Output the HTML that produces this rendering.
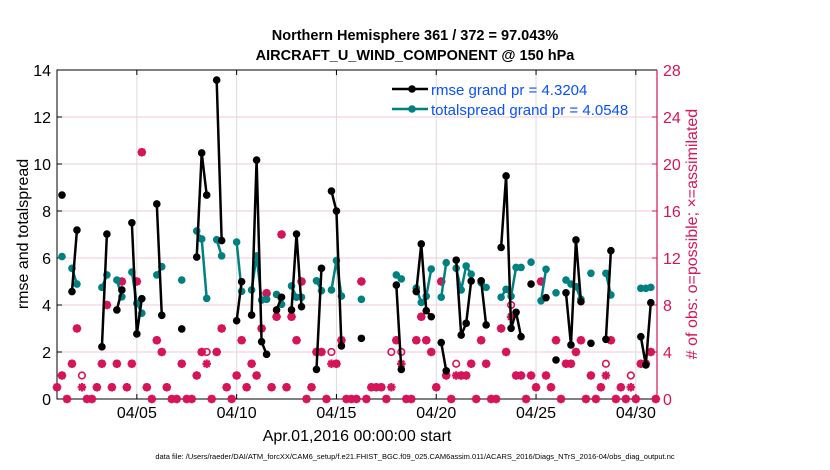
<!DOCTYPE html>
<html><head><meta charset="utf-8">
<style>
body{margin:0;background:#fff;}
svg{display:block;font-family:"Liberation Sans",sans-serif;}
</style></head>
<body>
<svg id="chart" width="830" height="470" viewBox="0 0 830 470">
<rect width="830" height="470" fill="#fff"/>
<text x="415" y="40" text-anchor="middle" font-size="14.5" font-weight="bold">Northern Hemisphere 361 / 372 = 97.043%</text>
<text x="415" y="60" text-anchor="middle" font-size="14.5" font-weight="bold">AIRCRAFT_U_WIND_COMPONENT @ 150 hPa</text>
<g id="grid"></g>
<g id="axes"></g>
<g id="marks"></g>
<text transform="translate(28,234) rotate(-90)" text-anchor="middle" font-size="16">rmse and totalspread</text>
<text transform="translate(697,234) rotate(-90)" text-anchor="middle" font-size="16" fill="#d6145a"># of obs: o=possible; ×=assimilated</text>
<text x="357" y="441" text-anchor="middle" font-size="16">Apr.01,2016 00:00:00 start</text>
<text x="415" y="459" text-anchor="middle" font-size="7.5">data file: /Users/raeder/DAI/ATM_forcXX/CAM6_setup/f.e21.FHIST_BGC.f09_025.CAM6assim.011/ACARS_2016/Diags_NTrS_2016-04/obs_diag_output.nc</text>
<g>
  <line x1="392" y1="89" x2="428" y2="89" stroke="#000" stroke-width="2.5"/>
  <circle cx="412" cy="89" r="3.8" fill="#000"/>
  <text x="431" y="95" font-size="15" fill="#0a50ff">rmse grand pr = 4.3204</text>
  <line x1="392" y1="109" x2="428" y2="109" stroke="#008080" stroke-width="2.5"/>
  <circle cx="412" cy="109" r="3.8" fill="#008080"/>
  <text x="431" y="115" font-size="15" fill="#0a50ff">totalspread grand pr = 4.0548</text>
</g>
</svg>
<script>
// bins are 6-hourly (index i => day i/4 from Apr 1 00Z)
const rmseBins = [1,3,4,9,10,12,13,15,16,17,20,21,25,28,29,30,32,33,36,37,39,40,41,42,44,45,47,48,49,52,53,55,56,57,61,68,69,72,73,74,75,77,78,80,81,82,83,85,86,89,90,91,92,93,95,98,100,102,103,104,105,107,110,111,117,118,119];
const rmseVals = [8.68,4.57,7.19,2.22,7.02,3.79,4.64,7.5,2.77,4.27,8.3,3.56,2.98,6.04,10.47,8.68,13.57,6.74,3.33,4.99,3.57,10.17,2.44,1.9,3.79,4.33,3.79,7.02,3.93,1.26,5.56,8.85,8.0,2.26,2.58,4.85,1.26,4.57,6.6,3.76,3.5,2.4,1.2,5.91,2.72,3.22,5.02,5.03,3.15,6.45,9.49,3.01,3.69,2.65,4.89,4.31,1.66,4.52,2.3,6.77,4.14,2.37,2.54,6.31,2.65,1.45,4.1];
const spreadBins = [1,3,4,9,10,12,13,15,16,17,20,21,25,28,29,30,32,33,36,37,39,40,41,42,44,45,47,48,49,52,53,55,56,57,61,68,69,72,73,74,75,77,78,80,81,82,83,85,86,89,90,91,92,93,95,97,98,100,102,103,104,105,107,110,111,117,118,119];
const spreadVals = [6.06,5.56,4.89,4.75,5.28,5.06,4.35,5.4,4.07,3.65,5.28,5.63,5.06,7.15,6.81,4.28,6.78,6.09,6.68,4.58,4.64,6.09,4.21,4.24,4.45,4.03,4.81,4.33,4.33,5.03,4.61,4.64,5.89,4.38,4.24,5.28,5.11,4.72,4.11,4.37,5.53,4.33,5.8,5.56,4.64,5.66,5.31,4.95,4.75,4.33,4.67,4.37,5.6,5.6,5.82,4.18,5.52,4.52,5.06,4.89,4.78,4.24,5.35,5.35,4.43,4.71,4.71,4.75];
const nPossible = [1,2,0,3,6,2,0,0,1,3,8,1,3,10,1,3,10,21,1,0,5,4,1,0,0,3,0,0,2,4,4,0,4,6,1,0,2,5,1,3,2,6,9,1,7,14,1,7,5,10,0,1,4,4,0,4,3,5,0,0,0,10,0,1,1,1,0,4,5,4,0,0,5,7,5,4,1,10,2,0,3,2,2,3,0,5,3,0,0,6,4,8,2,2,0,2,1,10,2,1,5,0,3,3,4,5,0,2,0,1,3,5,0,1,0,2,0,3,3,4,0];
const nAssim = [1,2,0,3,6,1,0,0,1,3,8,1,3,10,1,3,10,21,1,0,5,4,1,0,0,3,0,0,2,4,3,0,4,6,1,0,2,5,1,3,2,6,9,1,7,14,1,7,5,10,0,1,4,4,0,3,3,5,0,0,0,10,0,1,1,1,0,1,5,3,0,0,5,7,5,4,1,10,2,0,2,2,2,3,0,5,3,0,0,6,4,7,2,2,0,2,1,10,2,1,5,0,3,3,4,5,0,2,0,1,2,5,0,1,0,1,0,3,3,4,0];
const leftTicks = [0,2,4,6,8,10,12,14];
const rightTicks = [0,4,8,12,16,20,24,28];
const dateTicks = [4,9,14,19,24,29];
const dateLabels = ["04/05","04/10","04/15","04/20","04/25","04/30"];

const NS="http://www.w3.org/2000/svg";
const X0=57,X1=657,Y0=399,Y1=70,DAYS=30.06;
const xs = d => X0 + d/DAYS*(X1-X0);
const xb = i => xs(i/4);
const yl = v => Y0 - v/14*(Y0-Y1);
const yr = v => Y0 - v/28*(Y0-Y1);
function mk(tag, attrs, parent){const e=document.createElementNS(NS,tag);for(const k in attrs)e.setAttribute(k,attrs[k]);parent.appendChild(e);return e;}
const grid=document.getElementById('grid'),axes=document.getElementById('axes'),marks=document.getElementById('marks');

leftTicks.forEach(v=>{
  if(v>0&&v<14){const g=mk('line',{x1:X0,x2:X1,y1:yl(v),y2:yl(v),stroke:'#f3c9d8','stroke-width':1},grid);
  
  }
  const t=mk('text',{x:X0-6,y:yl(v)+6,'text-anchor':'end','font-size':16},axes);t.textContent=v;
  
  
  mk('line',{x1:X0,x2:X0+5,y1:yl(v),y2:yl(v),stroke:'#000'},axes);
});
rightTicks.forEach(v=>{
  const t=mk('text',{x:X1+6,y:yr(v)+6,'font-size':16,fill:'#d6145a'},axes);t.textContent=v;
  
  
  mk('line',{x1:X1-5,x2:X1,y1:yr(v),y2:yr(v),stroke:'#d6145a'},axes);
});
dateTicks.forEach((d,k)=>{
  const g=mk('line',{x1:xs(d),x2:xs(d),y1:Y1,y2:Y0,stroke:'#dcdcdc','stroke-width':1},grid);
  
  
  mk('line',{x1:xs(d),x2:xs(d),y1:Y0-5,y2:Y0,stroke:'#000'},axes);
  mk('line',{x1:xs(d),x2:xs(d),y1:Y1,y2:Y1+5,stroke:'#000'},axes);
  const t=mk('text',{x:xs(d),y:Y0+19,'text-anchor':'middle','font-size':16},axes);t.textContent=dateLabels[k];
  
  
});
mk('path',{d:`M${X1},${Y1} H${X0} V${Y0} H${X1}`,fill:'none',stroke:'#000','stroke-width':1},axes);
mk('line',{x1:X1,x2:X1,y1:Y1,y2:Y0,stroke:'#d6145a','stroke-width':1.2},axes);

// obs counts
const pc='#d6145a';
nPossible.forEach((v,i)=>{
  const c=mk('circle',{cx:xb(i),cy:yr(v),r:3.3,fill:'none',stroke:pc,'stroke-width':1.6},marks);
  
  
});
nAssim.forEach((v,i)=>{
  const cx=xb(i),cy=yr(v),r=4.3;
  let d='';
  for(let a=0;a<4;a++){const an=a*Math.PI/4;d+=`M${cx-r*Math.cos(an)},${cy-r*Math.sin(an)}L${cx+r*Math.cos(an)},${cy+r*Math.sin(an)}`;}
  const p=mk('path',{d:d,stroke:pc,'stroke-width':2.2,fill:'none'},marks);
  
  
});

function series(bins,vals,color,name){
  let d='';
  bins.forEach((b,k)=>{const cmd=(k>0&&bins[k-1]===b-1)?'L':'M';d+=`${cmd}${xb(b)},${yl(vals[k])}`;});
  const p=mk('path',{d:d,fill:'none',stroke:color,'stroke-width':2.5,'stroke-linejoin':'round'},marks);
  
  
  bins.forEach((b,k)=>{
    const c=mk('circle',{cx:xb(b),cy:yl(vals[k]),r:3.8,fill:color},marks);
    
    
  });
}
series(spreadBins,spreadVals,'#008080','totalspread');
series(rmseBins,rmseVals,'#000000','rmse');
</script>
</body></html>
